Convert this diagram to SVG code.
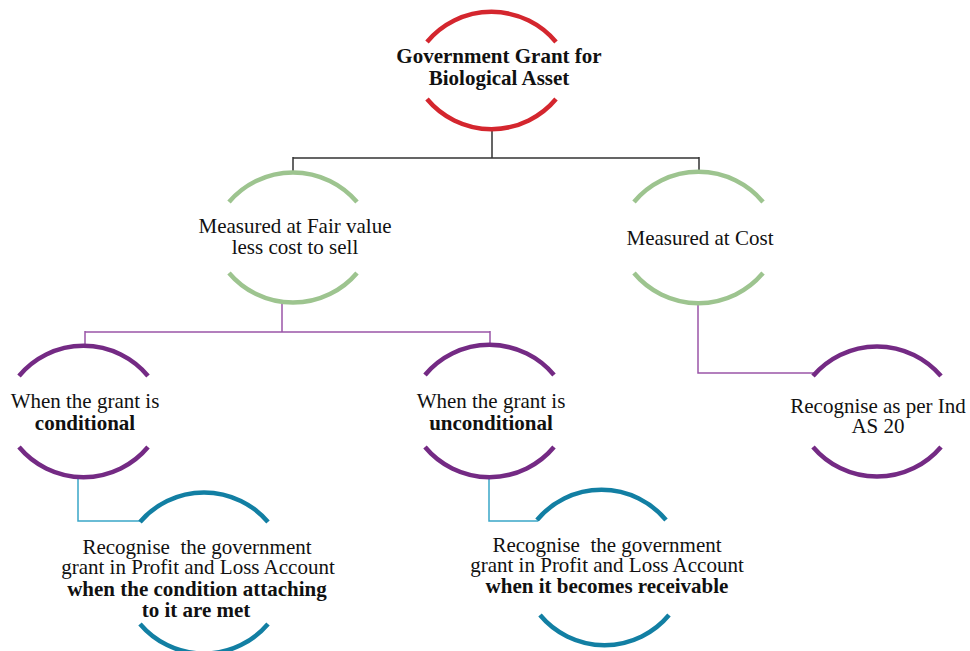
<svg xmlns="http://www.w3.org/2000/svg" width="970" height="651" viewBox="0 0 970 651">
<style>
.t{font-family:"Liberation Serif","Times New Roman",serif;font-size:21px;fill:#111;text-anchor:middle}
.b{font-weight:bold}
.arc{fill:none;stroke-width:4.5;stroke-linecap:butt}
.red{stroke:#d4262e}
.grn{stroke:#9dc48f}
.pur{stroke:#742a84}
.teal{stroke:#127fa3}
.cb{fill:none;stroke:#333;stroke-width:1.5}
.cp{fill:none;stroke:#9a55a8;stroke-width:1.5}
.ct{fill:none;stroke:#3aa6c8;stroke-width:1.5}
</style>
<rect width="970" height="651" fill="#fff"/>
<g id="connectors">
<path class="cb" d="M492,129 V158 M293,158 H699 M293,157 V172 M699,157 V172"/>
<path class="cp" d="M282,303 V332 M85,332 H490 M85,331 V347 M490,331 V347"/>
<path class="cp" d="M698,303 V373 H814"/>
<path class="ct" d="M78,475 V521 H141"/>
<path class="ct" d="M489,477 V521 H538"/>
</g>
<g id="n-root">
<path class="arc red" d="M427,42 A84,84 0 0 1 556,42"/>
<path class="arc red" d="M427,99 A84,84 0 0 0 556,99"/>
<text class="t b" x="499" y="63">Government Grant for</text>
<text class="t b" x="499" y="85">Biological Asset</text>
</g>
<g id="n-fairvalue">
<path class="arc grn" d="M229,202 A84,84 0 0 1 357,202"/>
<path class="arc grn" d="M229,273 A84,84 0 0 0 357,273"/>
<text class="t" x="295" y="233">Measured at Fair value</text>
<text class="t" x="295" y="254">less cost to sell</text>
</g>
<g id="n-cost">
<path class="arc grn" d="M634,202 A84,84 0 0 1 763,202"/>
<path class="arc grn" d="M634,273 A84,84 0 0 0 763,273"/>
<text class="t" x="700" y="245">Measured at Cost</text>
</g>
<g id="n-conditional">
<path class="arc pur" d="M19,376 A84,84 0 0 1 148,376"/>
<path class="arc pur" d="M19,447 A84,84 0 0 0 148,447"/>
<text class="t" x="85" y="408">When the grant is</text>
<text class="t b" x="85" y="430">conditional</text>
</g>
<g id="n-unconditional">
<path class="arc pur" d="M425,375 A84,84 0 0 1 554,375"/>
<path class="arc pur" d="M425,447 A84,84 0 0 0 554,447"/>
<text class="t" x="491" y="408">When the grant is</text>
<text class="t b" x="491" y="430">unconditional</text>
</g>
<g id="n-indas20">
<path class="arc pur" d="M813,376 A84,84 0 0 1 941,376"/>
<path class="arc pur" d="M813,447 A84,84 0 0 0 941,447"/>
<text class="t" x="878" y="413">Recognise as per Ind</text>
<text class="t" x="878" y="433">AS 20</text>
</g>
<g id="n-recog-cond">
<path class="arc teal" d="M140,522 A84,84 0 0 1 268,522"/>
<path class="arc teal" d="M140,624 A84,84 0 0 0 268,624"/>
<text class="t" x="197" y="554" xml:space="preserve">Recognise  the government</text>
<text class="t" x="198" y="574">grant in Profit and Loss Account</text>
<text class="t b" x="197" y="596">when the condition attaching</text>
<text class="t b" x="196" y="617">to it are met</text>
</g>
<g id="n-recog-uncond">
<path class="arc teal" d="M537,520 A84,84 0 0 1 666,520"/>
<path class="arc teal" d="M540,615 A84,84 0 0 0 669,615"/>
<text class="t" x="607" y="552" xml:space="preserve">Recognise  the government</text>
<text class="t" x="607" y="572">grant in Profit and Loss Account</text>
<text class="t b" x="607" y="593">when it becomes receivable</text>
</g>
</svg>
